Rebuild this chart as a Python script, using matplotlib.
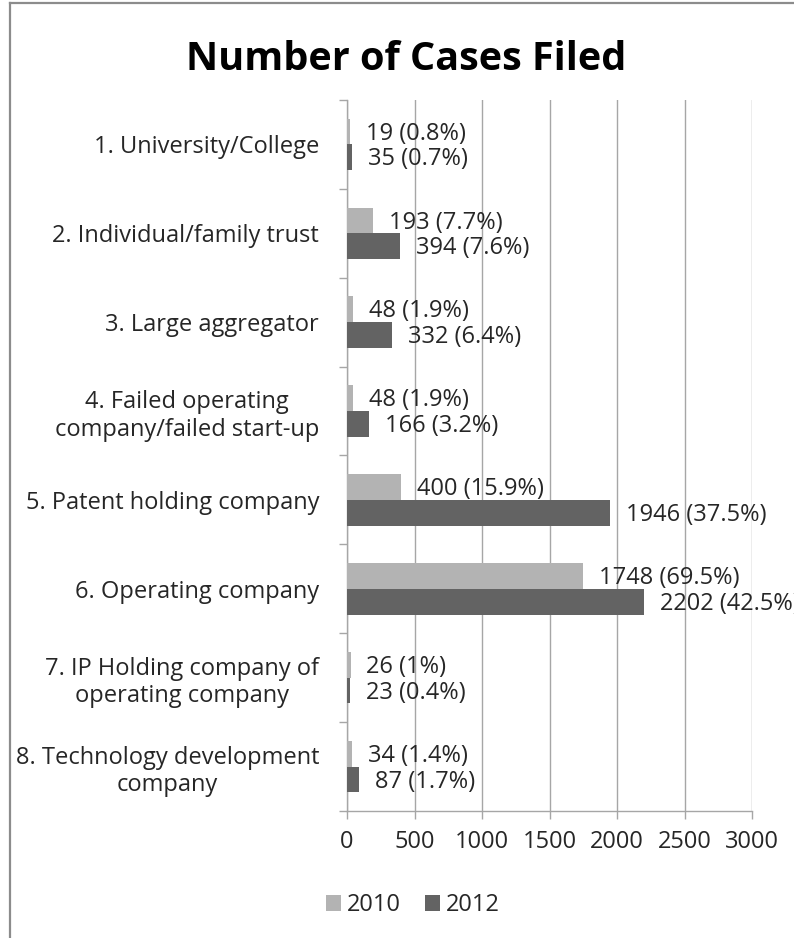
import matplotlib
matplotlib.use("Agg")
import matplotlib.pyplot as plt
from matplotlib.patches import Patch
from matplotlib.lines import Line2D
import numpy as np

plt.rcParams['font.family'] = ['Open Sans', 'DejaVu Sans']

categories = ["1. University/College",
              "2. Individual/family trust",
              "3. Large aggregator",
              "4. Failed operating\ncompany/failed start-up",
              "5. Patent holding company",
              "6. Operating company",
              "7. IP Holding company of\noperating company",
              "8. Technology development\ncompany"]
values_2010 = [19, 193, 48, 48, 400, 1748, 26, 34]
pct_2010 = ["0.8%", "7.7%", "1.9%", "1.9%", "15.9%", "69.5%", "1%", "1.4%"]
values_2012 = [35, 394, 332, 166, 1946, 2202, 23, 87]
pct_2012 = ["0.7%", "7.6%", "6.4%", "3.2%", "37.5%", "42.5%", "0.4%", "1.7%"]
series_names = ["2010", "2012"]
x_ticks = [0, 500, 1000, 1500, 2000, 2500, 3000]

c2010 = "#b3b3b3"
c2012 = "#636363"
txt = "#262626"
grid_c = "#a6a6a6"
fs = 17

W, H = 794, 938
fig = plt.figure(figsize=(W / 100, H / 100), dpi=100)
ax = fig.add_axes([347 / W, 1 - 811 / H, (752 - 347) / W, (811 - 100) / H])

n = len(categories)
y = np.arange(n)
h = 0.29
ax.barh(y - h / 2, values_2010, height=h, color=c2010, zorder=3)
ax.barh(y + h / 2, values_2012, height=h, color=c2012, zorder=3)

for i in range(n):
    ax.annotate(f"{values_2010[i]} ({pct_2010[i]})", (values_2010[i], y[i] - h / 2),
                xytext=(11.5, -1.5), textcoords="offset points", va="center", ha="left",
                fontsize=fs, color=txt, zorder=5, annotation_clip=False)
    ax.annotate(f"{values_2012[i]} ({pct_2012[i]})", (values_2012[i], y[i] + h / 2),
                xytext=(11.5, -1.5), textcoords="offset points", va="center", ha="left",
                fontsize=fs, color=txt, zorder=5, annotation_clip=False)

ax.set_xlim(0, 3000)
ax.set_ylim(n - 0.5, -0.5)
ax.set_xticks(x_ticks)
ax.set_xticklabels([str(v) for v in x_ticks], fontsize=fs, color=txt)
ax.tick_params(axis='x', length=6, width=1, color=grid_c, pad=8, direction='out')

ax.set_yticks(np.arange(-0.5, n, 1.0))
ax.set_yticklabels([])
ax.tick_params(axis='y', which='major', length=6, width=1, color=grid_c, direction='out')
ax.set_yticks(y, minor=True)
ax.set_yticklabels(categories, minor=True, fontsize=fs, color=txt, ha='right',
                   multialignment='center', linespacing=1.2)
ax.tick_params(axis='y', which='minor', length=0, pad=20)

ax.grid(axis='x', color=grid_c, linewidth=1, zorder=0)
for s in ['top', 'right']:
    ax.spines[s].set_visible(False)
for s in ['left', 'bottom']:
    ax.spines[s].set_color(grid_c)
    ax.spines[s].set_linewidth(1)

fig.text(406 / W, 1 - 59 / H, "Number of Cases Filed", fontsize=28.5, fontweight='bold',
         color='black', ha='center', va='center')

handles = [Patch(facecolor=c2010, edgecolor='none'), Patch(facecolor=c2012, edgecolor='none')]
fig.legend(handles, series_names, loc='center', bbox_to_anchor=(413 / W, 1 - 905 / H),
           ncol=2, frameon=False, fontsize=fs, handlelength=0.65, handleheight=0.65,
           handletextpad=0.25, columnspacing=1.0, labelcolor=txt)

fig.add_artist(Line2D([10 / W, 10 / W], [0, 1 - 3 / H], color="#8c8c8c", linewidth=1.6,
                      transform=fig.transFigure))
fig.add_artist(Line2D([10 / W, 1], [1 - 3 / H, 1 - 3 / H], color="#8c8c8c", linewidth=1.6,
                      transform=fig.transFigure))

fig.savefig("out.png", dpi=100)
